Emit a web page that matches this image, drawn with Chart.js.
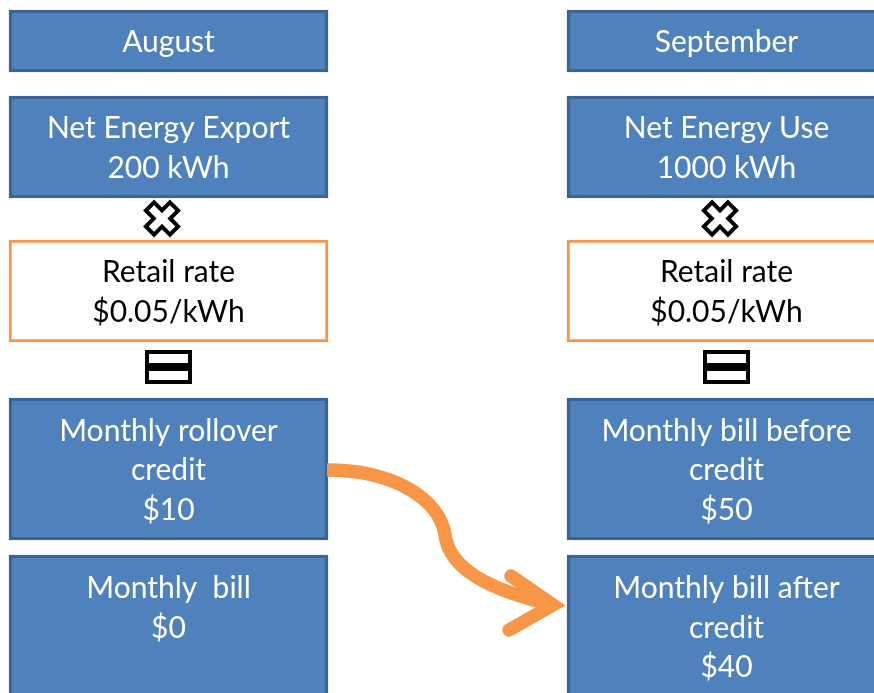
<!DOCTYPE html>
<html>
<head>
<meta charset="utf-8">
<script src="https://cdn.jsdelivr.net/npm/chart.js@4/dist/chart.umd.min.js"></script>
<style>
  html, body { margin: 0; padding: 0; background: #ffffff; }
  #wrap { width: 874px; height: 693px; }
</style>
</head>
<body>
<div id="wrap"><canvas id="c" width="874" height="693"></canvas></div>
<script>
// ---- data ----
const months = ['August', 'September'];
const netEnergyLabels = ['Net Energy Export', 'Net Energy Use'];
const netEnergyKWh = [200, 1000];
const retailRate = [0.05, 0.05];            // $/kWh
const creditLabels = [['Monthly rollover', 'credit'], ['Monthly bill before', 'credit']];
const creditValues = [10, 50];              // $
const billLabels = [['Monthly  bill'], ['Monthly bill after', 'credit']];
const billValues = [0, 40];                 // $

// ---- layout (pixel-unit axes) ----
const columnCenters = [168.5, 726.5];
const boxWidth = 319;
const rowRanges = [[10, 72], [96, 198], [240, 342], [398, 540], [555, 760]];
const rowValign = ['middle', 'middle', 'middle', 'middle', 'top'];
const lineHeight = 39.5;
const blueFill = '#4f81bd', blueBorder = '#3b6496';
const orange = '#f79646';

function boxTexts(i) {
  return [
    [months[i]],
    [netEnergyLabels[i], netEnergyKWh[i] + ' kWh'],
    ['Retail rate', '$' + retailRate[i].toFixed(2) + '/kWh'],
    creditLabels[i].concat(['$' + creditValues[i]]),
    billLabels[i].concat(['$' + billValues[i]])
  ];
}

const datasets = months.map((m, i) => ({
  label: m,
  data: rowRanges.map(r => ({ x: columnCenters[i], y: r })),
  backgroundColor: rowRanges.map((r, k) => k === 2 ? '#ffffff' : blueFill),
  borderColor: rowRanges.map((r, k) => k === 2 ? orange : blueBorder),
  borderWidth: rowRanges.map((r, k) => k === 2 ? 3 : 3.5),
  borderSkipped: false,
  barThickness: boxWidth,
  grouped: false,
  texts: boxTexts(i)
}));

const textPlugin = {
  id: 'diagramText',
  afterDatasetsDraw(chart) {
    const ctx = chart.ctx;
    const xs = chart.scales.x, ys = chart.scales.y;
    ctx.save();
    ctx.textAlign = 'center';
    ctx.textBaseline = 'middle';
    chart.data.datasets.forEach((ds, di) => {
      const meta = chart.getDatasetMeta(di);
      meta.data.forEach((el, k) => {
        const lines = ds.texts[k];
        const top = Math.min(el.y, el.base);
        const bot = Math.max(el.y, el.base);
        let y0;
        if (rowValign[k] === 'top') y0 = top + 33.5;
        else y0 = (top + bot) / 2 - (lines.length - 1) * lineHeight / 2 + 1.5;
        ctx.fillStyle = k === 2 ? '#000000' : '#ffffff';
        ctx.font = '30px Lato, "Open Sans", sans-serif';
        lines.forEach((t, li) => ctx.fillText(t, el.x, y0 + li * lineHeight));
      });
    });

    // operator symbols between rows
    chart.data.datasets.forEach((ds, di) => {
      const meta = chart.getDatasetMeta(di);
      const r1 = meta.data[1], r2 = meta.data[2], r3 = meta.data[3];
      // multiply symbol (outlined X)
      const mx = r1.x - 6.5, my = (Math.max(r1.y, r1.base) + Math.min(r2.y, r2.base)) / 2 - 0.5;
      ctx.save();
      ctx.translate(mx, my);
      ctx.rotate(Math.PI / 4);
      const w = 5.8, L = 17;
      ctx.beginPath();
      ctx.moveTo(-w, -L); ctx.lineTo(w, -L); ctx.lineTo(w, -w); ctx.lineTo(L, -w);
      ctx.lineTo(L, w); ctx.lineTo(w, w); ctx.lineTo(w, L); ctx.lineTo(-w, L);
      ctx.lineTo(-w, w); ctx.lineTo(-L, w); ctx.lineTo(-L, -w); ctx.lineTo(-w, -w);
      ctx.closePath();
      ctx.fillStyle = '#ffffff';
      ctx.fill();
      ctx.lineWidth = 4;
      ctx.lineJoin = 'miter';
      ctx.strokeStyle = '#000000';
      ctx.stroke();
      ctx.restore();
      // equals symbol (two stacked boxes)
      const ex = r2.x, ey = (Math.max(r2.y, r2.base) + Math.min(r3.y, r3.base)) / 2 - 4;
      ctx.save();
      ctx.strokeStyle = '#000000';
      ctx.lineWidth = 4;
      ctx.strokeRect(ex - 21.5, ey - 14, 43, 13);
      ctx.strokeRect(ex - 21.5, ey + 3, 43, 13);
      ctx.restore();
    });

    // curved arrow from rollover credit to bill after credit
    const P = (x, y) => [xs.getPixelForValue(x), ys.getPixelForValue(y)];
    const a = chart.getDatasetMeta(0).data[3];
    const start = [a.x + boxWidth / 2 - 1, ys.getPixelForValue(470)];
    const p = [[395, 470], [440, 500], [445, 535], [450, 570], [490, 590], [553, 605]].map(q => P(q[0], q[1]));
    ctx.strokeStyle = orange;
    ctx.lineWidth = 13.5;
    ctx.lineCap = 'butt';
    ctx.beginPath();
    ctx.moveTo(start[0], start[1]);
    ctx.bezierCurveTo(p[0][0], p[0][1], p[1][0], p[1][1], p[2][0], p[2][1]);
    ctx.bezierCurveTo(p[3][0], p[3][1], p[4][0], p[4][1], p[5][0], p[5][1]);
    ctx.stroke();
    const h1 = P(511, 576), h2 = P(509, 630);
    ctx.lineCap = 'round';
    ctx.lineJoin = 'miter';
    ctx.miterLimit = 10;
    ctx.beginPath();
    ctx.moveTo(h1[0], h1[1]);
    ctx.lineTo(p[5][0], p[5][1]);
    ctx.lineTo(h2[0], h2[1]);
    ctx.stroke();
    ctx.restore();
  }
};

new Chart(document.getElementById('c'), {
  type: 'bar',
  data: { datasets },
  options: {
    responsive: false,
    animation: false,
    layout: { padding: 0 },
    plugins: { legend: { display: false }, tooltip: { enabled: false } },
    scales: {
      x: { type: 'linear', min: 0, max: 874, offset: false, display: false },
      y: { type: 'linear', min: 0, max: 693, reverse: true, offset: false, display: false }
    }
  },
  plugins: [textPlugin]
});
</script>
</body>
</html>
